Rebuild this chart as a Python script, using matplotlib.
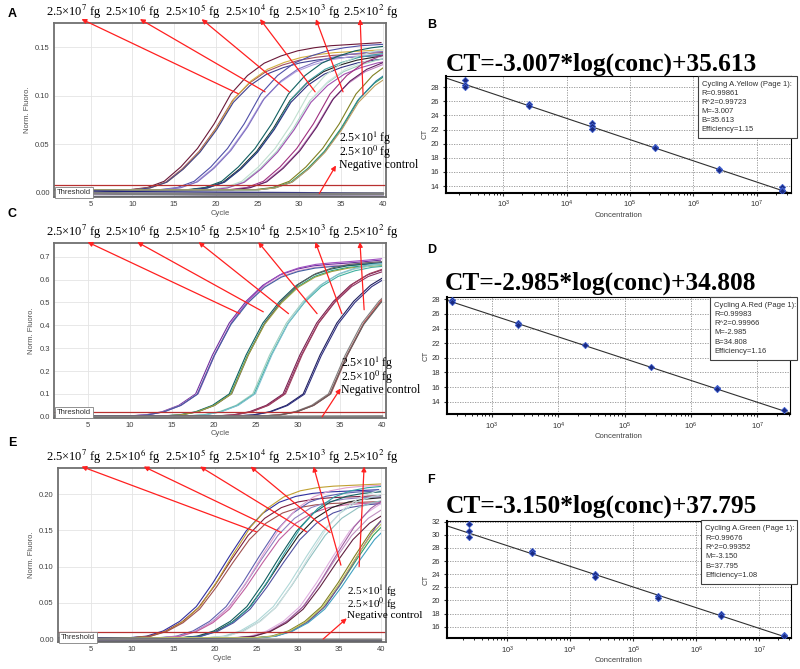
import numpy as np
import matplotlib.pyplot as plt
from matplotlib.patches import Rectangle

plt.rcParams['font.family'] = ['Liberation Sans', 'DejaVu Sans']
plt.rcParams['mathtext.fontset'] = 'stix'

W, H = 800, 669

# ---- amplification curves (one read curve per panel, groups shifted along cycle axis)
cycles = [-20, 10, 12, 14, 16, 18, 20, 22, 24, 26, 28, 30, 32, 34, 36, 38, 40]
base_a = [0.003, 0.003, 0.005, 0.011, 0.025, 0.043, 0.067, 0.096, 0.114, 0.126,
          0.133, 0.138, 0.141, 0.143, 0.144, 0.145, 0.146]
base_c = [0.004, 0.004, 0.008, 0.022, 0.050, 0.100, 0.270, 0.410, 0.505, 0.575,
          0.620, 0.645, 0.660, 0.667, 0.672, 0.678, 0.685]
base_e = [0.002, 0.002, 0.004, 0.011, 0.024, 0.044, 0.076, 0.112, 0.146, 0.170,
          0.185, 0.193, 0.197, 0.199, 0.200, 0.201, 0.202]

shift_a = [0, 3.6, 6.9, 9.3, 11.9, 15.0]
shift_c = [0, 4.0, 6.8, 10.4, 12.8, 15.8]
shift_e = [0, 3.6, 6.1, 9.3, 12.5, 15.1]

# replicate (cycle offset, plateau factor)
reps_a = [(-0.2, 1.06), (0.0, 0.99), (0.2, 1.01), (0.1, 0.97), (-0.1, 1.0)]
reps_c = [(-0.15, 1.0), (0.0, 0.99), (0.15, 1.01), (0.05, 0.985), (0.1, 1.0)]
reps_e = [(-0.25, 1.02), (0.0, 0.98), (0.3, 1.06), (0.15, 0.94), (-0.1, 1.0)]

colors_a = [['#6a1838', '#a05060', '#d4b040', '#404090'],
            ['#5050a8', '#b0a0e0', '#8070c0'],
            ['#106060', '#202020', '#40a0a0', '#303080'],
            ['#c0e0d0', '#a0d0c0', '#d0e8e0', '#a050b0'],
            ['#a03080', '#c080c0', '#602060'],
            ['#808020', '#30a060', '#3080a0', '#c0a060']]
colors_c = [['#7030a0', '#e0a0d0', '#a050c0', '#4060a0'],
            ['#106060', '#20a080', '#606060', '#a0a040'],
            ['#a0d0c0', '#40b0a0', '#80c0d0'],
            ['#7a2050', '#8b3060', '#a04060'],
            ['#202060', '#303080'],
            ['#808080', '#a06060', '#c05050', '#606060']]
colors_e = [['#3030a0', '#7a2040', '#c0a030', '#a05050'],
            ['#6060b0', '#9080c0', '#e0a0d0', '#c060a0'],
            ['#106060', '#202020', '#30a0a0', '#5050a0'],
            ['#b0d8d8', '#90c0c0', '#d0e0e0'],
            ['#e0b0e0', '#c090c0', '#a060a0', '#602040'],
            ['#808020', '#30a060', '#7040a0', '#40a0c0', '#c0c060']]

# flat (negative / low) traces
cycles_flat = [1, 10, 20, 30, 40]
flat_a = [[0.002, 0.001, 0.0005, 0.0, -0.0005],
          [-0.001, -0.0015, -0.002, -0.002, -0.002],
          [0.0, -0.001, -0.0015, -0.0015, -0.001],
          [-0.003, -0.003, -0.003, -0.003, -0.003]]
flat_c = [[0.003, 0.002, 0.001, 0.0, 0.0],
          [0.0, -0.001, -0.001, -0.001, -0.001],
          [0.001, 0.0, 0.0, 0.0, 0.001]]
flat_e = [[0.002, 0.001, 0.0, -0.001, -0.002],
          [-0.001, -0.001, -0.0015, -0.002, -0.002],
          [0.0, -0.0005, -0.001, -0.001, -0.001],
          [-0.003, -0.003, -0.003, -0.003, -0.003]]
flat_colors = ['#202080', '#603080', '#808080', '#101040']

thresholds = [0.008, 0.022, 0.0093]

# ---- standard curves
conc = [2.5e2, 2.5e3, 2.5e4, 2.5e5, 2.5e6, 2.5e7]
ct_b = [[29.1, 28.3, 28.0], [25.6, 25.4], [22.9, 22.5, 22.1], [19.6, 19.4], [16.4, 16.2], [13.8, 13.5, 13.3]]
ct_d = [[27.9, 27.6], [24.8, 24.5], [21.7], [18.7], [15.8, 15.7], [12.8]]
ct_f = [[31.6, 30.6, 29.6], [27.5, 27.2], [24.0, 23.5], [20.6, 20.3], [18.0, 17.7], [14.8, 14.6]]
slopes = [-3.007, -2.985, -3.150]
intercepts = [35.613, 34.808, 37.795]
r_vals = ['0.99861', '0.99983', '0.99676']
r2_vals = ['0.99723', '0.99966', '0.99352']
effs = ['1.15', '1.16', '1.08']
channels = ['Yellow', 'Red', 'Green']

top_labels = ['2.5×10$^{7}$ fg', '2.5×10$^{6}$ fg', '2.5×10$^{5}$ fg',
              '2.5×10$^{4}$ fg', '2.5×10$^{3}$ fg', '2.5×10$^{2}$ fg']
low_labels = ['2.5×10$^{1}$ fg', '2.5×10$^{0}$ fg', 'Negative control']


def rect(l, r, t, b):
    return [l / W, 1 - b / H, (r - l) / W, (b - t) / H]


def fx(px):
    return px / W


def fy(py):
    return 1 - py / H


fig = plt.figure(figsize=(8, 6.69), dpi=100)

amp_panels = [
    dict(box=(54, 386, 23, 197), xlim=(0.6, 40.4), ylim=(-0.0045, 0.175),
         yt=[0.0, 0.05, 0.10, 0.15], fmt='%.2f', base=base_a, shift=shift_a, reps=reps_a,
         colors=colors_a, flat=flat_a, label_y=12,
         tips_x=[3.9, 10.9, 18.3, 25.3, 32.0, 37.3], tip_y=0.179,
         tails=[(22.7, 0.102), (25.9, 0.104), (28.8, 0.104), (31.9, 0.104), (35.25, 0.104), (37.65, 0.101)],
         low_tail=(32.4, -0.001), low_tip=(34.4, 0.028), low_x=339, low_y=130, low_fs=8.5,
         letter=('A', 8, 14)),
    dict(box=(54, 386, 243, 417.7), xlim=(1.0, 40.5), ylim=(-0.004, 0.76),
         yt=[0.0, 0.1, 0.2, 0.3, 0.4, 0.5, 0.6, 0.7], fmt='%.1f', base=base_c, shift=shift_c,
         reps=reps_c, colors=colors_c, flat=flat_c, label_y=232,
         tips_x=[5.0, 10.9, 18.2, 25.3, 32.1, 37.4], tip_y=0.764,
         tails=[(23.1, 0.451), (25.9, 0.459), (28.9, 0.451), (32.3, 0.451), (35.25, 0.451), (37.9, 0.468)],
         low_tail=(32.9, 0.0), low_tip=(35.1, 0.124), low_x=341, low_y=355, low_fs=8.5,
         letter=('C', 8, 214)),
    dict(box=(58, 386, 468, 642), xlim=(1.06, 40.64), ylim=(-0.004, 0.236),
         yt=[0.0, 0.05, 0.10, 0.15, 0.20], fmt='%.2f', base=base_e, shift=shift_e,
         reps=reps_e, colors=colors_e, flat=flat_e, label_y=457,
         tips_x=[3.9, 11.4, 18.2, 24.3, 31.9, 38.0], tip_y=0.238,
         tails=[(25.0, 0.148), (28.0, 0.147), (31.05, 0.148), (33.9, 0.147), (35.2, 0.102), (37.4, 0.100)],
         low_tail=(33.05, 0.0), low_tip=(35.9, 0.0286), low_x=347, low_y=583, low_fs=8.1,
         letter=('E', 8, 443)),
]

label_cx = [74, 133, 193, 253, 313, 371]
arrow_kw = dict(arrowstyle='-|>', color='#ff2020', lw=0.9, mutation_scale=7, shrinkA=0, shrinkB=0)

for i, p in enumerate(amp_panels):
    ax = fig.add_axes(rect(*p['box']))
    ax.set_xlim(*p['xlim'])
    ax.set_ylim(*p['ylim'])
    clip = Rectangle((p['xlim'][0], p['ylim'][0]), 40 - p['xlim'][0], p['ylim'][1] - p['ylim'][0],
                     transform=ax.transData, fill=False)
    cyc = np.array(cycles, dtype=float)
    vals = np.array(p['base'])
    for g, sh in enumerate(p['shift']):
        for r, col in enumerate(p['colors'][g]):
            dsh, sc = p['reps'][r]
            ln, = ax.plot(cyc + sh + dsh, vals * sc, color=col, lw=0.8)
            ln.set_clip_path(clip)
    for k, fl in enumerate(p['flat']):
        ax.plot(cycles_flat, fl, color=flat_colors[k], lw=2.0 if k == 2 else 1.0)
    ax.axhline(thresholds[i], color='#b83030', lw=0.9)
    ax.text(0.008, 0.008, 'Threshold', transform=ax.transAxes, fontsize=5.5, color='#303030',
            va='bottom', ha='left',
            bbox=dict(boxstyle='square,pad=0.25', fc='white', ec='#808080', lw=0.6))
    ax.set_xticks(range(5, 41, 5))
    ax.set_yticks(p['yt'])
    ax.set_yticklabels([p['fmt'] % v for v in p['yt']])
    ax.tick_params(labelsize=5.5, length=0, colors='#404040', pad=3)
    ax.grid(color='#e4e4e4', lw=0.6)
    ax.set_axisbelow(True)
    for s in ax.spines.values():
        s.set_color('#707070')
        s.set_linewidth(1.3)
    ax.set_xlabel('Cycle', fontsize=5.5, color='#505050', labelpad=1)
    ax.set_ylabel('Norm. Fluoro.', fontsize=5.5, color='#505050', labelpad=3)

    for j, lab in enumerate(top_labels):
        fig.text(fx(label_cx[j]), fy(p['label_y']), lab, family='Liberation Serif',
                 fontsize=9, ha='center', va='center')
        ax.annotate('', xy=(p['tips_x'][j], p['tip_y']), xytext=p['tails'][j],
                    arrowprops=arrow_kw, annotation_clip=False)
    fig.text(fx(p['low_x']), fy(p['low_y']), '\n'.join(low_labels), family='Liberation Serif',
             fontsize=p['low_fs'], ha='left', va='top', linespacing=0.72)
    ax.annotate('', xy=p['low_tip'], xytext=p['low_tail'], arrowprops=arrow_kw,
                annotation_clip=False)
    let, lx, ly = p['letter']
    fig.text(fx(lx), fy(ly), let, fontsize=9, weight='bold', ha='left', va='center')

reg_panels = [
    dict(box=(445.7, 790.7, 76, 192.7), xlim=(10 ** 2.09, 10 ** 7.537), ylim=(13.05, 29.6),
         yt=range(14, 29, 2), ct=ct_b, title_y=64, legend=(697.7, 76, 796.7, 137.7), letter=('B', 427, 25)),
    dict(box=(446.7, 790, 296.7, 414.3), xlim=(10 ** 2.32, 10 ** 7.49), ylim=(12.27, 28.36),
         yt=range(14, 29, 2), ct=ct_d, title_y=283, legend=(710, 296.7, 797.3, 360), letter=('D', 427, 250)),
    dict(box=(446.7, 790.7, 521, 638.3), xlim=(10 ** 2.04, 10 ** 7.50), ylim=(14.23, 32.1),
         yt=range(16, 33, 2), ct=ct_f, title_y=506.7, legend=(701, 520, 797.3, 584.3), letter=('F', 427, 480)),
]

for i, p in enumerate(reg_panels):
    ax = fig.add_axes(rect(*p['box']))
    ax.set_xscale('log')
    ax.set_xlim(*p['xlim'])
    ax.set_ylim(*p['ylim'])
    for c, cts in zip(conc, p['ct']):
        ax.plot([c] * len(cts), cts, 'D', ms=3.2, mfc='#1a2a80', mec='#4060d0', mew=0.6, zorder=3)
    x1, x2 = 1e2, 1e8
    ax.axline((x1, slopes[i] * np.log10(x1) + intercepts[i]),
              (x2, slopes[i] * np.log10(x2) + intercepts[i]), color='#303030', lw=0.8)
    ax.set_yticks(list(p['yt']))
    ax.set_xticks([1e3, 1e4, 1e5, 1e6, 1e7])
    ax.tick_params(which='major', labelsize=5.5, length=2.5, colors='#303030', pad=2)
    ax.tick_params(which='minor', length=1.5)
    ax.grid(which='major', color='#909090', ls=(0, (1.5, 1.5)), lw=0.6)
    for s in ax.spines.values():
        s.set_color('black')
        s.set_linewidth(0.8)
    ax.spines['left'].set_linewidth(1.5)
    ax.spines['bottom'].set_linewidth(1.5)
    ax.set_xlabel('Concentration', fontsize=5.5, color='#404040', labelpad=1)
    ax.set_ylabel('CT', fontsize=5.5, color='#404040', labelpad=2)

    eq = 'CT=%.3f*log(conc)+%.3f' % (slopes[i], intercepts[i])
    fig.text(fx(601), fy(p['title_y']), eq, family='Liberation Serif', weight='bold',
             fontsize=18.3, ha='center', va='center')

    l, t, r, b = p['legend']
    fig.patches.append(Rectangle((fx(l), fy(b)), fx(r) - fx(l), fy(t) - fy(b), transform=fig.transFigure,
                                 fc='white', ec='#404040', lw=0.8, zorder=5))
    lines = ['Cycling A.%s (Page 1):' % channels[i], 'R=%s' % r_vals[i], 'R^2=%s' % r2_vals[i],
             'M=%.3f' % slopes[i], 'B=%.3f' % intercepts[i], 'Efficiency=%s' % effs[i]]
    step = (b - t - 8) / len(lines)
    for k, s in enumerate(lines):
        fig.text(fx(l + 4), fy(t + 4 + step * (k + 0.5)), s, fontsize=5.5, color='#303030',
                 ha='left', va='center', zorder=6)
    let, lx, ly = p['letter']
    fig.text(fx(lx), fy(ly), let, fontsize=9, weight='bold', ha='left', va='center')

fig.savefig('out.png', dpi=100)
